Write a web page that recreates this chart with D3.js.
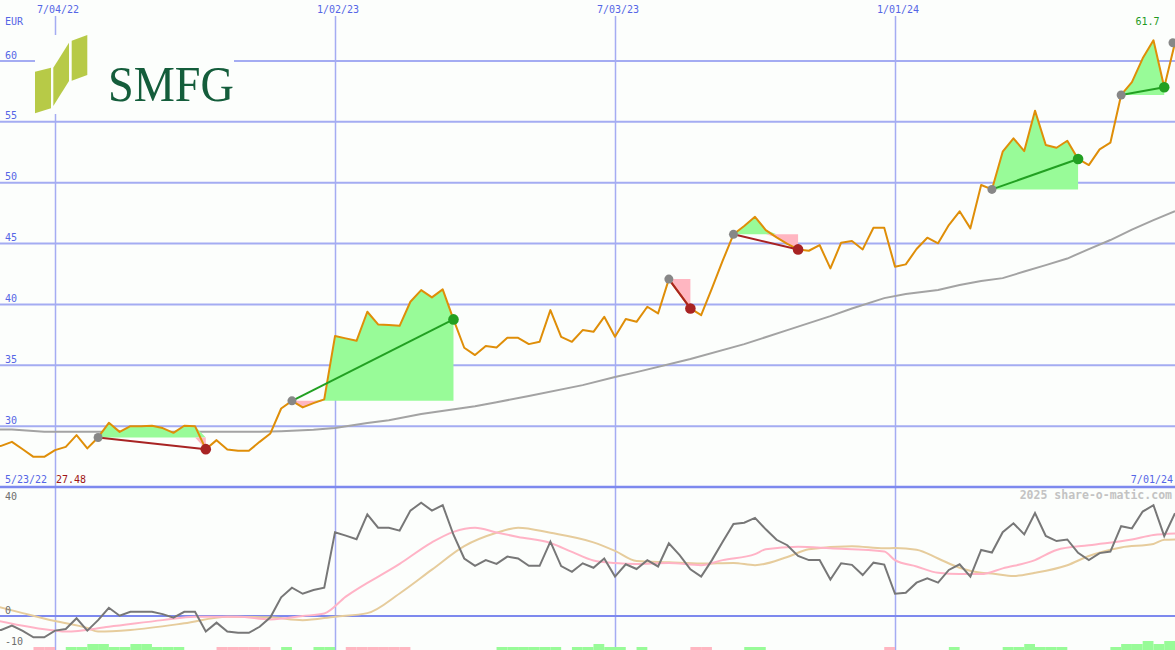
<!DOCTYPE html>
<html><head><meta charset="utf-8">
<script src="https://cdn.jsdelivr.net/npm/d3@7"></script>
<style>html,body{margin:0;padding:0;background:#fcfefc;overflow:hidden}svg{display:block}</style>
</head><body><svg id="c" width="1175" height="650"></svg>
<script>
// ---------- data ----------
const startLabel = "5/23/22";
const endLabel = "7/01/24";
const dateTicks = ["7/04/22", "1/02/23", "7/03/23", "1/01/24"];
const priceTicks = [30, 35, 40, 45, 50, 55, 60];
const oscTicks = [40, 0, -10];
const currency = "EUR";
const minLabel = "27.48";
const maxLabel = "61.7";
const credit = "2025 share-o-matic.com";
const company = "SMFG";

// weekly closing price (EUR)
const price = [
  28.2, 28.38, 28.71, 28.1, 27.48, 27.48, 28.03, 28.30, 29.26, 28.17,
  29.07, 30.27, 29.53, 30.0, 30.0, 30.03, 29.84, 29.45, 30.03, 30.0,
  28.11, 28.85, 28.09, 27.97, 27.97, 28.71, 29.40, 31.45, 32.08, 31.54,
  31.89, 32.20, 37.40, 37.21, 37.01, 39.40, 38.36, 38.30, 38.24, 40.22,
  41.18, 40.58, 41.24, 38.77, 36.44, 35.84, 36.58, 36.47, 37.26, 37.26,
  36.74, 36.93, 39.53, 37.34, 36.93, 37.89, 37.75, 38.98, 37.34, 38.80,
  38.57, 39.81, 39.26, 42.08, 40.89, 39.67, 39.12, 41.32, 43.59, 45.76,
  46.44, 47.20, 46.11, 45.51, 44.98, 44.52, 44.41, 44.88, 42.96, 45.07,
  45.21, 44.52, 46.30, 46.30, 43.09, 43.29, 44.55, 45.48, 45.02, 46.52,
  47.65, 46.25, 49.81, 49.45, 52.55, 53.65, 52.60, 55.92, 53.10, 52.87,
  53.45, 51.95, 51.45, 52.74, 53.29, 57.21, 58.27, 60.22, 61.70, 57.84,
  61.50
];

// long moving average (week index, value)
const maIdx = [0, 2, 5, 10, 15, 20, 25, 27, 30, 32, 35, 37, 40, 45, 47, 50, 55, 58, 60, 65, 70, 74, 78, 80, 83, 85, 88, 90, 92, 94, 96, 98, 100, 102, 104, 106, 108, 110];
const maVal = [29.73, 29.72, 29.53, 29.53, 29.53, 29.53, 29.53, 29.59, 29.71, 29.84, 30.25, 30.49, 30.99, 31.64, 31.97, 32.47, 33.37, 34.03, 34.44, 35.51, 36.74, 37.89, 39.04, 39.67, 40.52, 40.85, 41.18, 41.59, 41.92, 42.16, 42.70, 43.23, 43.77, 44.55, 45.29, 46.15, 46.93, 47.67];

// oscillator (weekly)
const oscillator = [
  -4.7, -4.4, -3.0, -4.7, -6.7, -6.7, -4.6, -4.1, -0.7, -4.6,
  -1.3, 2.6, 0.1, 1.3, 1.3, 1.3, 0.6, -0.5, 1.3, 1.3,
  -4.9, -2.1, -4.9, -5.3, -5.3, -3.4, -0.4, 5.9, 8.9, 7.0,
  8.2, 8.9, 26.4, 25.3, 24.2, 32.0, 27.8, 27.8, 26.9, 33.2,
  35.7, 33.2, 34.9, 25.6, 18.1, 15.8, 17.6, 16.4, 18.7, 18.1,
  15.8, 15.8, 23.4, 15.7, 13.9, 16.6, 15.2, 18.1, 12.4, 16.3,
  14.8, 17.6, 15.6, 22.9, 19.2, 14.7, 12.4, 17.6, 23.4, 29.0,
  29.4, 30.9, 27.3, 24.0, 22.3, 18.9, 17.6, 17.6, 11.5, 16.6,
  16.1, 12.9, 16.8, 16.2, 7.0, 7.3, 10.5, 11.9, 10.5, 14.5,
  16.3, 12.4, 20.8, 20.0, 26.4, 29.2, 25.7, 32.4, 25.2, 23.6,
  24.1, 19.9, 17.6, 19.8, 20.3, 28.3, 27.6, 32.9, 34.9, 25.2,
  32.4
];

// fast signal line (pink)
const fastIdx = [0, 6, 7, 11, 16, 19, 23, 26, 29, 31, 33, 38, 41, 43, 45, 47, 49, 52, 54, 56, 58, 60, 63, 66, 68, 71, 72, 75, 78, 83, 84, 86, 88, 90, 92, 94, 97, 99, 102, 106, 108, 110];
const fastVal = [-1.0, -4.6, -4.9, -3.4, -1.3, -0.2, -0.2, -1.1, 0.0, 0.8, 6.1, 16.4, 23.2, 26.5, 27.8, 26.3, 24.9, 23.0, 20.2, 17.5, 16.7, 16.4, 16.7, 16.0, 17.6, 19.5, 21.0, 21.8, 21.3, 20.3, 17.6, 15.6, 13.6, 13.2, 13.2, 15.0, 17.6, 20.8, 22.3, 24.1, 25.5, 26.0];

// slow signal line (tan)
const slowIdx = [0, 3, 6, 9, 10, 13, 18, 22, 26, 29, 32, 35, 38, 41, 44, 47, 49, 52, 56, 58, 60, 63, 66, 69, 71, 74, 76, 80, 83, 84, 86, 88, 90, 92, 93, 95, 97, 100, 102, 105, 108, 109, 110];
const slowVal = [3.5, 0.9, -1.6, -3.8, -4.9, -4.4, -2.3, -0.2, -0.4, -1.3, -0.2, 0.9, 7.1, 14.6, 22.0, 26.2, 27.8, 26.2, 23.2, 20.5, 17.3, 16.9, 16.5, 16.7, 16.0, 18.6, 21.0, 22.0, 21.3, 21.4, 20.9, 18.1, 15.2, 13.6, 13.4, 12.6, 13.6, 16.0, 18.9, 21.6, 22.7, 24.0, 24.1];

// weekly volume strength (+ up / - down, level 1..3)
const volume = [
  0, 0, 0, 0, -1, -1, 0, 1, 1, 2,
  2, 1, 1, 2, 2, 1, 1, 1, 0, 0,
  0, -1, -1, -1, -1, -1, 0, 1, 0, 0,
  1, 1, 0, -1, -1, -1, -1, -1, -1, 0,
  0, 0, 0, 0, 0, 0, 0, 1, 1, 1,
  1, 1, 1, 0, 1, 1, 2, 1, 1, 0,
  1, 0, 0, 0, 0, -1, -1, 0, 0, 0,
  1, 1, 0, 0, 0, 0, 0, 0, 0, 0,
  0, 0, 0, -1, 0, 0, 0, 0, 0, 1,
  0, 0, 0, 0, 1, 1, 2, 1, 1, 1,
  0, 0, 0, 0, 1, 2, 2, 3, 2, 3,
  0
];

// trade signals (week indices)
const signalStart = [10, 28, 63, 69, 93, 105];
const signalEnd   = [20, 43, 65, 75, 101, 109];
const openSignal  = [110];

// ---------- drawing ----------
const W = 1175, H = 650;
const bg = "#fcfefc";
const svg = d3.select("#c");
svg.append("rect").attr("width", W).attr("height", H).attr("fill", bg);

const parseTick = d3.timeParse("%-m/%d/%y");
const t0 = parseTick(startLabel);
const dates = price.map((_, i) => d3.timeDay.offset(t0, 7 * i));
const x = d3.scaleTime().domain([t0, parseTick(endLabel)]).range([-9.6, W]);
const yP = d3.scaleLinear().domain([25, 60]).range([487, 61]);
const yO = d3.scaleLinear().domain([0, 40]).range([616, 489]);
const yV = d3.scaleLinear().domain([0, 3]).range([H, 641]);

const font = "DejaVu Sans Mono, monospace";
const gridCol = "#a4acf2", axisCol = "#7d89ee", labCol = "#5566e6";

// horizontal price gridlines
svg.append("g").selectAll("line").data(priceTicks).join("line")
  .attr("x1", 0).attr("x2", W)
  .attr("y1", d => yP(d)).attr("y2", d => yP(d))
  .attr("stroke", gridCol).attr("stroke-width", 2);

// vertical date gridlines
const tickDates = dateTicks.map(parseTick);
svg.append("g").selectAll("line").data(tickDates).join("line")
  .attr("x1", d => Math.round(x(d)) + 0.5).attr("x2", d => Math.round(x(d)) + 0.5)
  .attr("y1", 16).attr("y2", H)
  .attr("stroke", gridCol).attr("stroke-width", 1.5);

// panel separators
svg.append("line").attr("x1", 0).attr("x2", W).attr("y1", yP(25)).attr("y2", yP(25))
  .attr("stroke", axisCol).attr("stroke-width", 2.5);
svg.append("line").attr("x1", 0).attr("x2", W).attr("y1", yO(0)).attr("y2", yO(0))
  .attr("stroke", axisCol).attr("stroke-width", 2);

// logo
const logo = svg.append("g");
logo.append("rect").attr("x", 35).attr("y", 35).attr("width", 199).attr("height", 79).attr("fill", bg);
const panels = [
  [[35, 71.7], [51, 67.7], [51, 108.3], [35, 113.3]],
  [[53.3, 67.7], [69, 42.7], [69, 81], [53.3, 106]],
  [[71.7, 40.7], [87.3, 35], [87.3, 75], [71.7, 80.7]]
];
logo.selectAll("polygon").data(panels).join("polygon")
  .attr("points", d => d.map(p => p.join(",")).join(" "))
  .attr("fill", "#b7ca47");
logo.append("text").attr("x", 108).attr("y", 101)
  .attr("font-family", "Liberation Serif, DejaVu Serif, serif")
  .attr("font-size", 50).attr("fill", "#145d3b")
  .attr("textLength", 126).attr("lengthAdjust", "spacingAndGlyphs")
  .text(company);

// volume bars
svg.append("g").selectAll("rect").data(volume.map((v, i) => ({v, i})).filter(d => d.v !== 0)).join("rect")
  .attr("x", d => x(dates[d.i]))
  .attr("width", d => x(d3.timeDay.offset(dates[d.i], 7)) - x(dates[d.i]))
  .attr("y", d => yV(Math.abs(d.v)))
  .attr("height", d => yV(0) - yV(Math.abs(d.v)))
  .attr("fill", d => d.v > 0 ? "#98fb98" : "#ffb6c1");

// moving average
svg.append("path").datum(maIdx.map((k, j) => [k, maVal[j]]))
  .attr("fill", "none").attr("stroke", "#a3a3a3").attr("stroke-width", 2)
  .attr("d", d3.line().x(d => x(dates[d[0]])).y(d => yP(d[1])));

// signal fills
const fillG = svg.append("g");
signalStart.forEach((s, k) => {
  const e = signalEnd[k];
  const base = price[s];
  const idx = d3.range(s, e + 1);
  fillG.append("path").datum(idx).attr("fill", "#98fb98")
    .attr("d", d3.area().x(i => x(dates[i])).y0(yP(base)).y1(i => yP(Math.max(price[i], base))));
  fillG.append("path").datum(idx).attr("fill", "#ffb6c1")
    .attr("d", d3.area().x(i => x(dates[i])).y0(yP(base)).y1(i => yP(Math.min(price[i], base))));
});

// price line
svg.append("path").datum(price)
  .attr("fill", "none").attr("stroke", "#df8e08").attr("stroke-width", 2)
  .attr("stroke-linejoin", "round")
  .attr("d", d3.line().x((d, i) => x(dates[i])).y(d => yP(d)));

// signal lines & markers
signalStart.forEach((s, k) => {
  const e = signalEnd[k];
  const win = price[e] > price[s];
  const col = win ? "#22a022" : "#a82323";
  svg.append("line")
    .attr("x1", x(dates[s])).attr("y1", yP(price[s]))
    .attr("x2", x(dates[e])).attr("y2", yP(price[e]))
    .attr("stroke", col).attr("stroke-width", 2);
  svg.append("circle").attr("cx", x(dates[s])).attr("cy", yP(price[s])).attr("r", 4.5).attr("fill", "#878787");
  svg.append("circle").attr("cx", x(dates[e])).attr("cy", yP(price[e])).attr("r", 5.3).attr("fill", col);
});
openSignal.forEach(s => {
  svg.append("circle").attr("cx", x(dates[s]) - 2).attr("cy", yP(price[s])).attr("r", 4.5).attr("fill", "#878787");
});

// oscillator lines
const oscLine = d3.line().x(d => x(dates[d[0]])).y(d => yO(d[1])).curve(d3.curveMonotoneX);
svg.append("path").datum(slowIdx.map((k, j) => [k, slowVal[j]]))
  .attr("fill", "none").attr("stroke", "#e6cc9c").attr("stroke-width", 2).attr("d", oscLine);
svg.append("path").datum(fastIdx.map((k, j) => [k, fastVal[j]]))
  .attr("fill", "none").attr("stroke", "#ffb3c6").attr("stroke-width", 2).attr("d", oscLine);
svg.append("path").datum(oscillator.map((v, i) => [i, v]))
  .attr("fill", "none").attr("stroke", "#777777").attr("stroke-width", 2)
  .attr("d", d3.line().x(d => x(dates[d[0]])).y(d => yO(d[1])));

// ---------- texts ----------
const txt = (xx, yy, s, col, anchor = "start", size = 10, weight = "normal") =>
  svg.append("text").attr("x", xx).attr("y", yy).attr("fill", col)
    .attr("font-family", font).attr("font-size", size).attr("font-weight", weight)
    .attr("text-anchor", anchor).text(s);

dateTicks.forEach((t, k) => txt(x(tickDates[k]) + 3, 12.5, t, labCol, "middle"));
txt(5, 25, currency, labCol);
priceTicks.forEach(v => txt(5, yP(v) - 2.5, String(v), labCol));
oscTicks.forEach(v => txt(5, v === 40 ? yO(v) + 11 : yO(v) - 2.5, String(v), "#6e6e6e"));
txt(5, 483, startLabel, labCol);
txt(56, 483, minLabel, "#a01515");
txt(W - 2, 483, endLabel, labCol, "end");
txt(d3.greatestIndex(price) >= 0 ? x(dates[d3.greatestIndex(price)]) - 6 : 0, 25, maxLabel, "#1f9a1f", "middle");
txt(W - 3, 499, credit, "#c3c3c3", "end", 11.5, "bold");
</script></body></html>
